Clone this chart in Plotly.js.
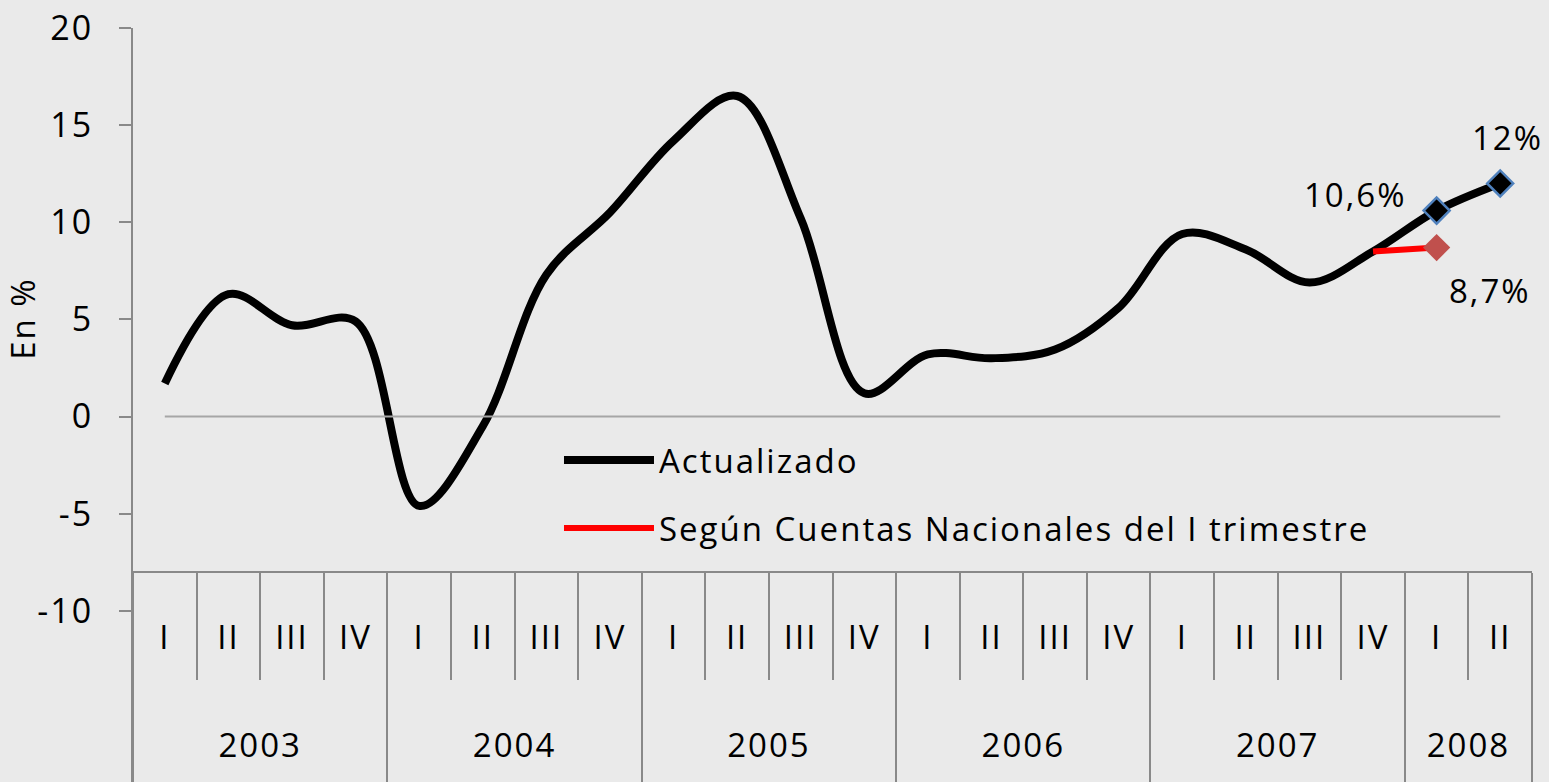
<!DOCTYPE html>
<html>
<head>
<meta charset="utf-8">
<script src="https://cdn.plot.ly/plotly-3.0.1.min.js"></script>
<style>
  html, body { margin: 0; padding: 0; background: #eaeaea; }
  #chart { width: 1549px; height: 782px; }
  /* the reference text is set rather loose; applied to every svg text
     so Plotly's own measuring node sees the same widths */
  svg text { letter-spacing: 2px; }
</style>
</head>
<body>
<div id="chart"></div>
<script>
// ===================== DATA =====================
// Quarterly growth, 2003 I to 2008 II

const years = ['2003', '2003', '2003', '2003', '2004', '2004', '2004', '2004',
               '2005', '2005', '2005', '2005', '2006', '2006', '2006', '2006',
               '2007', '2007', '2007', '2007', '2008', '2008'];
const quarters = ['I', 'II', 'III', 'IV', 'I', 'II', 'III', 'IV',
                  'I', 'II', 'III', 'IV', 'I', 'II', 'III', 'IV',
                  'I', 'II', 'III', 'IV', 'I', 'II'];

const actualizado = [1.7, 6.3, 4.7, 4.9, -4.6, -0.5, 7.3, 10.5,
                     14.2, 16.5, 10.2, 1.2, 3.2, 3.0, 3.45, 5.6,
                     9.4, 8.6, 6.9, 8.5, 10.6, 12.0];
const cuentasTrimI = [null, null, null, null, null, null, null, null,
                      null, null, null, null, null, null, null, null,
                      null, null, null, 8.5, 8.7, null];
const cero = [0, 0, 0, 0, 0, 0, 0, 0, 0, 0, 0, 0, 0, 0, 0, 0, 0, 0, 0, 0, 0, 0];

const yTickVals = [-10, -5, 0, 5, 10, 15, 20];
const yTickText = ['-10', '-5', '0', '5', '10', '15', '20'];

// points that carry a marker and a label
const markedIdx = [20, 21];
const redMarkedIdx = [20];

// ===================== CATEGORY GEOMETRY =====================
// quarters sit at 0..n-1, boxes run half a slot either side
const idx = quarters.map((q, i) => i);
const xRange = [-0.5, quarters.length - 0.5];

const quarterBounds = idx.slice(1).map(i => i - 0.5);

// year groups: boundaries and label centres
const yearNames = [];
const yearBounds = [-0.5];
const yearCenters = [];
years.forEach((y, i) => {
    if (y !== years[i - 1]) yearNames.push(y);
    if (y !== years[i + 1]) {
        const first = years.indexOf(y);
        yearCenters.push((first + i) / 2);
        yearBounds.push(i + 0.5);
    }
});

const pick = (arr, list) => list.map(i => arr[i]);
const fmt = v => String(v).replace('.', ',') + '%';

const GRAY = '#898989';
const FONT = 'Open Sans, Noto Sans, sans-serif';

// ===================== TRACES =====================
// zero line sits above the curve, as in the original
const zeroTrace = {
    x: idx, y: cero, xaxis: 'x2',
    type: 'scatter', mode: 'lines',
    line: { color: '#a6a6a6', width: 2 },
    showlegend: false, hoverinfo: 'skip'
};

const actTrace = {
    x: idx, y: actualizado,
    type: 'scatter', mode: 'lines',
    name: 'Actualizado',
    legendgroup: 'a',
    line: { color: '#000000', width: 8, shape: 'spline', smoothing: 1 }
};

const cuentasTrace = {
    x: idx, y: cuentasTrimI,
    type: 'scatter', mode: 'lines',
    name: 'Según Cuentas Nacionales del I trimestre',
    legendgroup: 'b',
    line: { color: '#ff0000', width: 6 }
};

const actMarkers = {
    x: markedIdx, y: pick(actualizado, markedIdx), xaxis: 'x3',
    type: 'scatter', mode: 'markers',
    marker: { symbol: 'diamond', size: 20, color: '#000000',
              line: { color: '#4f81bd', width: 2.5 } },
    showlegend: false
};

const cuentasMarkers = {
    x: redMarkedIdx, y: pick(cuentasTrimI, redMarkedIdx), xaxis: 'x3',
    type: 'scatter', mode: 'markers',
    marker: { symbol: 'diamond', size: 21, color: '#c0504d' },
    showlegend: false
};

// ===================== LABELS =====================
const labelShift = { 20: [-82, 16], 21: [7, 46] };
const annotations = markedIdx.map(i => ({
    xref: 'x', yref: 'y',
    x: i, y: actualizado[i],
    text: fmt(actualizado[i]),
    showarrow: false,
    xshift: labelShift[i][0], yshift: labelShift[i][1],
    font: { size: 33, color: '#000' }
}));
annotations.push({
    xref: 'x', yref: 'y',
    x: redMarkedIdx[0], y: cuentasTrimI[redMarkedIdx[0]],
    text: fmt(cuentasTrimI[redMarkedIdx[0]]),
    showarrow: false, xshift: 53, yshift: -43,
    font: { size: 33, color: '#000' }
});

// y axis title, centred on the 20 .. -8 span like the original
annotations.push({
    xref: 'paper', yref: 'paper',
    x: -0.0795, y: 0.614,
    xanchor: 'center', yanchor: 'middle',
    text: 'En %', textangle: -90,
    showarrow: false,
    font: { size: 33, color: '#000' }
});

// ===================== LAYOUT =====================
const axisPos = 0.2785;   // horizontal axis crosses at -8

const layout = {
    width: 1549, height: 782,
    margin: { l: 133, r: 17, t: 28, b: 0 },
    paper_bgcolor: '#eaeaea',
    plot_bgcolor: '#eaeaea',
    font: { family: FONT, size: 33, color: '#000' },
    showlegend: true,
    legend: {
        x: 0.3045, y: 0.464, xanchor: 'left', yanchor: 'top',
        bgcolor: 'rgba(0,0,0,0)',
        traceorder: 'grouped', tracegroupgap: 22,
        itemwidth: 90,
        font: { size: 33 }
    },
    // main axis: box outline, year dividers (major) and quarter dividers (minor)
    xaxis: {
        range: xRange,
        anchor: 'free', position: axisPos,
        showline: true, linecolor: GRAY, linewidth: 2,
        tickmode: 'array', tickvals: yearBounds,
        ticks: 'outside', ticklen: 210, tickwidth: 2, tickcolor: GRAY,
        showticklabels: false,
        minor: { tickmode: 'array', tickvals: quarterBounds,
                 ticks: 'outside', ticklen: 107, tickwidth: 2, tickcolor: GRAY,
                 showgrid: false },
        showgrid: false, zeroline: false
    },
    // quarter labels
    xaxis2: {
        range: xRange, overlaying: 'x',
        anchor: 'free', position: axisPos,
        tickmode: 'array', tickvals: idx, ticktext: quarters,
        ticks: '', ticklabelstandoff: 43,
        showline: false, showgrid: false, zeroline: false,
        tickfont: { size: 33 }
    },
    // year labels
    xaxis3: {
        range: xRange, overlaying: 'x',
        anchor: 'free', position: axisPos,
        tickmode: 'array', tickvals: yearCenters, ticktext: yearNames,
        ticks: '', ticklabelstandoff: 151,
        showline: false, showgrid: false, zeroline: false,
        tickfont: { size: 33 }
    },
    yaxis: {
        range: [-18.81, 20],
        tickmode: 'array', tickvals: yTickVals, ticktext: yTickText,
        showline: true, linecolor: GRAY, linewidth: 2,
        ticks: 'outside', ticklen: 12, tickwidth: 2, tickcolor: GRAY,
        ticklabelstandoff: 19,
        showgrid: false, zeroline: false,
        tickfont: { size: 34 }
    },
    annotations: annotations
};

Plotly.newPlot('chart',
    [actTrace, cuentasTrace, zeroTrace, actMarkers, cuentasMarkers],
    layout, { displayModeBar: false, staticPlot: true });
</script>
</body>
</html>
